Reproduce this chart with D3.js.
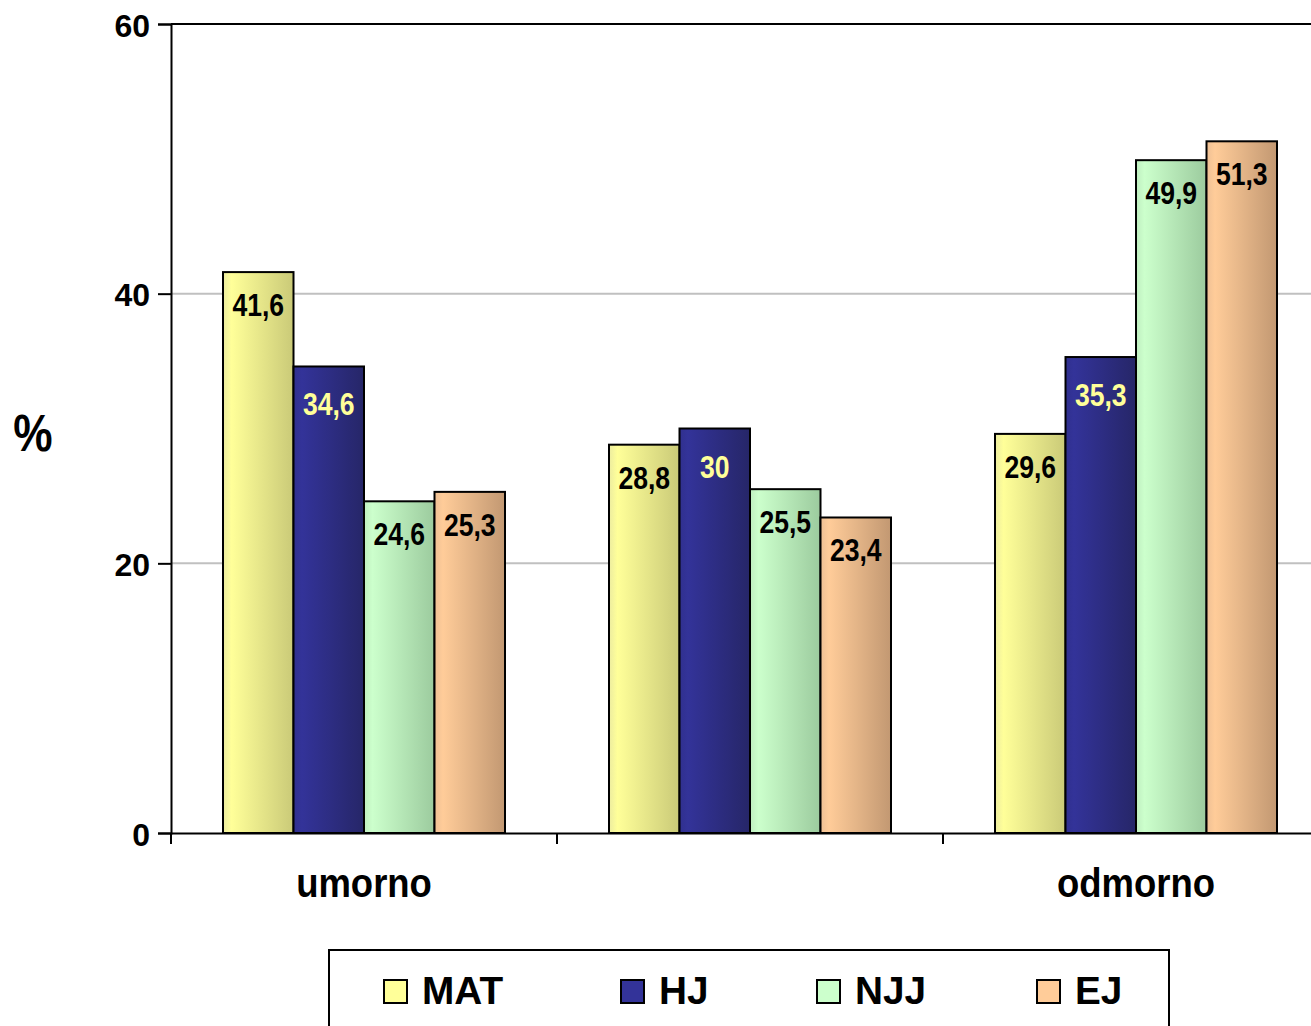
<!DOCTYPE html>
<html><head><meta charset="utf-8">
<script src="https://cdn.jsdelivr.net/npm/d3@7"></script>
<style>
html,body{margin:0;padding:0;background:#fff;overflow:hidden}
svg{display:block}
text{font-family:"Liberation Sans",Arial,sans-serif;font-weight:bold}
</style></head>
<body>
<svg id="chart" width="1311" height="1026"></svg>
<script>
const categories = ["umorno", "", "odmorno"];
const seriesNames = ["MAT", "HJ", "NJJ", "EJ"];
const valuesMAT = [41.6, 28.8, 29.6];
const valuesHJ  = [34.6, 30.0, 35.3];
const valuesNJJ = [24.6, 25.5, 49.9];
const valuesEJ  = [25.3, 23.4, 51.3];
const yTicks = [0, 20, 40, 60];
const yTitle = "%";

const seriesValues = [valuesMAT, valuesHJ, valuesNJJ, valuesEJ];
const colors = {
  MAT: {light:"#ffff99", dark:"#caca78", edge:"#ececa0", label:"#000", off:44},
  HJ:  {light:"#333399", dark:"#262668", edge:"#30308e", label:"#ffff99", off:49},
  NJJ: {light:"#ccffcc", dark:"#9ccb9e", edge:"#bfeec0", label:"#000", off:44},
  EJ:  {light:"#ffcc99", dark:"#c29872", edge:"#eec095", label:"#000", off:44}
};

const svg = d3.select("#chart");
const fmt = v => String(v).replace(".", ",");

function stext(parent, x, yy, str, size, sx, anchor) {
  return parent.append("text")
    .attr("transform", `translate(${x},${yy}) scale(${sx},1)`)
    .attr("text-anchor", anchor || "middle")
    .attr("font-size", size).text(str);
}

const plotLeft = 171, plotTop = 24, plotBottom = 833, bandW = 386;
const x0 = d3.scaleBand().domain(categories).range([plotLeft, plotLeft + bandW * categories.length]).padding(0);
const x1 = d3.scaleBand().domain(seriesNames).range([52, 334]).padding(0);
const y = d3.scaleLinear().domain([0, 60]).range([plotBottom, plotTop]);

// gradients
const defs = svg.append("defs");
seriesNames.forEach(s => {
  const g = defs.append("linearGradient").attr("id", "g" + s).attr("x1", "0").attr("x2", "1").attr("y1", "0").attr("y2", "0");
  g.append("stop").attr("offset", "0").attr("stop-color", colors[s].edge);
  g.append("stop").attr("offset", "0.12").attr("stop-color", colors[s].light);
  g.append("stop").attr("offset", "1").attr("stop-color", colors[s].dark);
});

// gridlines
svg.append("g").selectAll("line").data(yTicks.filter(t => t > 0 && t < 60)).join("line")
  .attr("x1", plotLeft).attr("x2", 1311).attr("y1", d => y(d)).attr("y2", d => y(d))
  .attr("stroke", "#c0c0c0").attr("stroke-width", 2);
// top border line
svg.append("line").attr("x1", plotLeft).attr("x2", 1311).attr("y1", y(60)).attr("y2", y(60))
  .attr("stroke", "#000").attr("stroke-width", 2);

// bars
const groups = svg.append("g").selectAll("g").data(categories).join("g")
  .attr("transform", c => `translate(${x0(c)},0)`);
groups.each(function(c, ci) {
  const g = d3.select(this);
  seriesNames.forEach((s, si) => {
    const v = seriesValues[si][ci];
    g.append("rect")
      .attr("x", x1(s)).attr("y", y(v))
      .attr("width", x1.bandwidth()).attr("height", y(0) - y(v))
      .attr("fill", `url(#g${s})`).attr("stroke", "#000").attr("stroke-width", 2);
  });
  seriesNames.forEach((s, si) => {
    const v = seriesValues[si][ci];
    stext(g, x1(s) + x1.bandwidth() / 2, y(v) + colors[s].off, fmt(v), 32, 0.83)
      .attr("fill", colors[s].label);
  });
});

// y axis
const yAxis = svg.append("g").attr("transform", `translate(${plotLeft},0)`)
  .call(d3.axisLeft(y).tickValues(yTicks).tickSize(13).tickFormat(""));
yAxis.select(".domain").attr("stroke", "#000").attr("stroke-width", 2);
yAxis.selectAll(".tick line").attr("stroke", "#000").attr("stroke-width", 2);
yAxis.selectAll(".tick").each(function(d) {
  stext(d3.select(this), -21, 12, String(d), 32, 1.0, "end").attr("fill", "#000");
});

// x axis
const xAxis = svg.append("g").attr("transform", `translate(0,${plotBottom})`)
  .call(d3.axisBottom(x0).tickSize(0).tickFormat(""));
xAxis.select(".domain").attr("stroke", "#000").attr("stroke-width", 2);
xAxis.selectAll(".tick").each(function(d) {
  stext(d3.select(this), 0, 64, d, 41, 0.89).attr("fill", "#000");
});
// category boundary ticks
svg.append("g").selectAll("line").data(categories).join("line")
  .attr("x1", c => x0(c)).attr("x2", c => x0(c)).attr("y1", plotBottom).attr("y2", plotBottom + 11)
  .attr("stroke", "#000").attr("stroke-width", 2);

// y title
stext(svg, 33, 451, yTitle, 52, 0.85);

// legend
const legend = svg.append("g");
legend.append("rect").attr("x", 329).attr("y", 950).attr("width", 840).attr("height", 100)
  .attr("fill", "#fff").attr("stroke", "#000").attr("stroke-width", 2);
const legX = [384, 621, 817, 1037];
seriesNames.forEach((s, i) => {
  legend.append("rect").attr("x", legX[i]).attr("y", 980).attr("width", 23).attr("height", 23)
    .attr("fill", colors[s].light).attr("stroke", "#000").attr("stroke-width", 2);
  stext(legend, legX[i] + 38, 1004, s, 38, 1.02, "start").attr("fill", "#000");
});
</script>
</body></html>
